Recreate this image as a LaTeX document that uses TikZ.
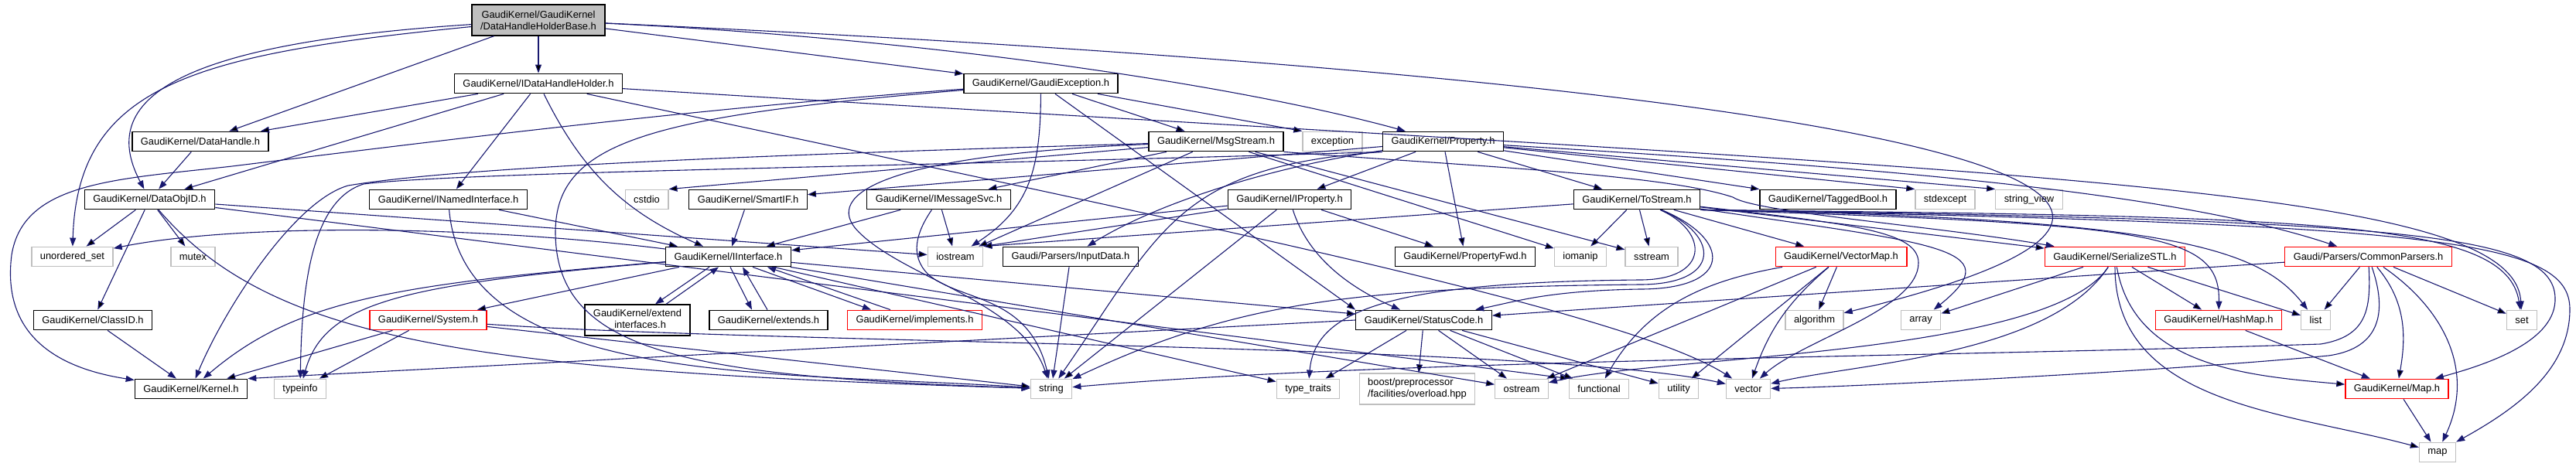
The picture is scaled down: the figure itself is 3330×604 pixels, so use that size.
\documentclass[tikz,border=0pt]{standalone}
\usepackage{fontspec}
\setmainfont{Liberation Sans}
\usepackage{tikz}
\usetikzlibrary{arrows.meta}
\definecolor{edgeblue}{HTML}{191970}
\definecolor{grey75}{HTML}{BFBFBF}
\tikzset{
  hdr/.style={draw=black,line width=1.3pt,minimum height=25.5pt,inner xsep=11pt,inner ysep=0pt,font=\fontsize{12.9pt}{15pt}\selectfont},
  sys/.style={hdr,draw=grey75},
  hid/.style={hdr,draw=red},
  rootbox/.style={hdr,fill=grey75,minimum height=40pt,align=center},
  dep/.style={->,draw=edgeblue,line width=1.1pt},
}
\begin{document}
\begin{tikzpicture}[x=1pt,y=1pt,>={Triangle[length=11pt,width=8pt]}]
  \useasboundingbox (0,0) rectangle (3330,-604);

  \node[rootbox] at (696,-26) (holder){GaudiKernel/GaudiKernel\\/DataHandleHolderBase.h};
  \node[hdr] at ([yshift=-82pt]holder) (idhh){GaudiKernel/IDataHandleHolder.h};
  \node[hdr] at (1345.5,-108) (gexc){GaudiKernel/GaudiException.h};

  \node[hdr] at (259,-183) (dh){GaudiKernel/DataHandle.h};
  \node[hdr] at (1572,-183) (msg){GaudiKernel/MsgStream.h};
  \node[sys] at (1722.5,-183) (exc){exception};
  \node[hdr] at (1865.5,-183) (prop){GaudiKernel/Property.h};

  \node[hdr] at (193.5,-258) (doid){GaudiKernel/DataObjID.h};
  \node[hdr] at (579.5,-258) (inamed){GaudiKernel/INamedInterface.h};
  \node[sys] at (836,-258) (cstdio){cstdio};
  \node[hdr] at (967,-258) (smartif){GaudiKernel/SmartIF.h};
  \node[hdr] at (1213.5,-258) (imsg){GaudiKernel/IMessageSvc.h};
  \node[hdr] at (1667,-258) (iprop){GaudiKernel/IProperty.h};
  \node[hdr] at (2116,-258) (tostr){GaudiKernel/ToStream.h};
  \node[hdr] at (2363,-258) (tagged){GaudiKernel/TaggedBool.h};
  \node[sys] at (2514.5,-258) (stdexc){stdexcept};
  \node[sys] at (2623,-258) (strview){string\_view};

  \node[sys] at (93.5,-332) (uset){unordered\_set};
  \node[sys] at (249.5,-332) (mutex){mutex};
  \node[hdr] at (941.5,-332) (iintf){GaudiKernel/IInterface.h};
  \node[sys] at (1235,-332) (iostr){iostream};
  \node[hdr] at (1384,-332) (input){Gaudi/Parsers/InputData.h};
  \node[hdr] at (1894,-332) (pfwd){GaudiKernel/PropertyFwd.h};
  \node[sys] at (2043,-332) (iomanip){iomanip};
  \node[sys] at (2135,-332) (sstr){sstream};
  \node[hid] at (2380,-332) (vmap){GaudiKernel/VectorMap.h};
  \node[hid] at (2734,-332) (sstl){GaudiKernel/SerializeSTL.h};
  \node[hid] at (3061.5,-332) (cparse){Gaudi/Parsers/CommonParsers.h};

  \node[hdr] at (120,-414) (classid){GaudiKernel/ClassID.h};
  \node[hid] at (553.5,-414) (system){GaudiKernel/System.h};
  \node[hdr,minimum height=40pt,align=center] at (824,-414) (extif){GaudiKernel/extend\\\_interfaces.h};
  \node[hdr] at (993.5,-414) (extends){GaudiKernel/extends.h};
  \node[hid] at (1182.5,-414) (impl){GaudiKernel/implements.h};
  \node[hdr] at (1840.5,-414) (status){GaudiKernel/StatusCode.h};
  \node[sys] at (2345.5,-414) (algo){algorithm};
  \node[sys] at (2483,-414) (array){array};
  \node[hid] at (2868,-414) (hmap){GaudiKernel/HashMap.h};
  \node[sys] at (2993.5,-414) (list){list};
  \node[sys] at (3260,-414) (set){set};

  \node[hdr] at (247,-503) (kernel){GaudiKernel/Kernel.h};
  \node[sys] at (388,-503) (tinfo){typeinfo};
  \node[sys] at (1359,-503) (string){string};
  \node[sys] at (1691,-503) (ttraits){type\_traits};
  \node[sys,minimum height=40pt,align=left] at (1832,-503) (boost){boost/preprocessor\\/facilities/overload.hpp};
  \node[sys] at (1967,-503) (ostr){ostream};
  \node[sys] at (2067,-503) (func){functional};
  \node[sys] at (2170,-503) (util){utility};
  \node[sys] at (2260,-503) (vector){vector};
  \node[hid] at (3098.5,-503) (mapH){GaudiKernel/Map.h};
  \node[sys] at ([yshift=-82pt,xshift=52.5pt]mapH) (map){map};

  \draw [dep] (holder) edge (idhh) edge (dh) edge (gexc);
  \draw [dep] (holder) .. controls (250,-70) and (100,-110) .. (uset);
  \draw [dep] (holder) .. controls (250,-55) and (120,-120) .. (doid);
  \draw [dep] (holder) .. controls (1200,-50) and (1600,-110) .. (prop);
  \draw [dep] (holder) .. controls (2300,-100) and (3100,-230) .. (algo);

  \draw [dep] (idhh) edge (dh) edge (doid) edge (inamed) edge[bend right=20] (iintf);
  \draw [dep] (idhh) .. controls (1500,-280) and (2100,-400) .. (vector);
  \draw [dep] (idhh) .. controls (2600,-225) and (3250,-235) .. (set);
  \draw [dep] (dh) -- (doid);

  \draw [dep] (gexc) edge (msg) edge (exc.north west) edge (status.north west);
  \draw [dep] (gexc) .. controls (1345,-220) and (1330,-270) .. (iostr);
  \draw [dep] (gexc) .. controls (900,-140) and (560,-183) .. (300,-215) .. controls (150,-232) and (30,-235) .. (15,-330) .. controls (0,-450) and (100,-480) .. (kernel);
  \draw [dep] (gexc) .. controls (850,-150) and (718,-180) .. (718,-300) .. controls (718,-460) and (900,-487) .. (string);

  \draw [dep] (msg) edge (imsg) edge (cstdio.north east) edge (iostr) edge (iomanip) edge (sstr);
  \draw [dep] (msg) .. controls (1000,-200) and (600,-215) .. (450,-240) .. controls (380,-260) and (290,-400) .. (kernel);
  \draw [dep] (msg) .. controls (1150,-200) and (1060,-250) .. (1110,-300) .. controls (1170,-360) and (1320,-390) .. (string);
  \draw [dep] (msg.south east) .. controls (1900,-215) and (2150,-225) .. (2240,-255) .. controls (2270,-275) and (2500,-292) .. (sstl);

  \draw [dep] (prop) edge (iprop) edge (pfwd) edge (tostr) edge (tagged) edge (stdexc.north west) edge (strview.north west) edge (smartif);
  \draw [dep] (prop) .. controls (2400,-215) and (2800,-245) .. (cparse);
  \draw [dep] (prop) .. controls (1650,-215) and (1500,-260) .. (input);
  \draw [dep] (prop.south west) .. controls (1520,-215) and (1500,-300) .. (string);
  \draw [dep] (prop.south west) .. controls (1200,-215) and (600,-222) .. (470,-238) .. controls (400,-260) and (390,-380) .. (tinfo);

  \draw [dep] (doid) edge (uset) edge (mutex) edge (classid) edge (iostr) edge (func.north west);
  \draw [dep] (doid) .. controls (350,-440) and (600,-480) .. (string);
  \draw [dep] (classid) -- (kernel);
  \draw [dep] (inamed) edge (iintf);
  \draw [dep] (inamed) .. controls (600,-500) and (1000,-480) .. (string);
  \draw [dep] (smartif) -- (iintf);
  \draw [dep] (imsg) edge (iintf) edge (iostr);
  \draw [dep] (imsg) .. controls (1185,-300) and (1175,-330) .. (1200,-355) .. controls (1240,-390) and (1330,-380) .. (string);

  \draw [dep] (iprop) edge (iintf) edge (pfwd) edge (iostr.north east) edge (string);
  \draw [dep] (iprop) .. controls (1690,-330) and (1740,-370) .. (status);

  \draw [dep] (tostr) edge (iostr.north east) edge (iomanip) edge (sstr) edge (vmap) edge (sstl);
  \draw [dep] (tostr) .. controls (2210,-300) and (2210,-362) .. (2120,-362) .. controls (1800,-365) and (1700,-400) .. (ttraits);
  \draw [dep] (tostr) .. controls (2240,-310) and (2240,-374) .. (2120,-374) .. controls (2000,-376) and (1960,-390) .. (status);
  \draw [dep] (tostr) .. controls (2225,-305) and (2225,-368) .. (2120,-368) .. controls (1750,-372) and (1600,-390) .. (string);
  \draw [dep] (tostr) .. controls (2500,-315) and (2600,-320) .. (array);
  \draw [dep] (tostr) .. controls (2400,-290) and (2480,-300) .. (2480,-340) .. controls (2480,-400) and (2330,-440) .. (vector);
  \draw [dep] (tostr.south east) .. controls (2800,-282) and (2920,-320) .. (list);
  \draw [dep] (tostr.south east) .. controls (2780,-290) and (2870,-300) .. (hmap);
  \draw [dep] (tostr.south east) .. controls (3000,-280) and (3240,-285) .. (set);
  \draw [dep] (tostr.south east) .. controls (3100,-285) and (3300,-300) .. (3303,-385) .. controls (3305,-440) and (3220,-470) .. (mapH);
  \draw [dep] (tostr.south east) .. controls (3150,-290) and (3322,-310) .. (3322,-400) .. controls (3322,-480) and (3250,-530) .. (map);

  \draw [dep] (iintf) edge (system) edge (status) edge (ostr) edge (ttraits);
  \draw [dep] (iintf) .. controls (500,-368) and (380,-390) .. (kernel);
  \draw [dep] (iintf) .. controls (520,-368) and (420,-390) .. (tinfo);
  \draw [dep] (iintf) .. controls (600,-290) and (300,-290) .. (uset);
  \draw [dep] ([xshift=-24.5pt]iintf.south) -- ([xshift=23pt]extif.north);
  \draw [dep] ([xshift=37pt]extif.north) -- ([xshift=-12.5pt]iintf.south);
  \draw [dep] ([xshift=2.5pt]iintf.south) -- ([xshift=-21.5pt]extends.north);
  \draw [dep] ([xshift=-1.5pt]extends.north) -- ([xshift=18.5pt]iintf.south);
  \draw [dep] ([xshift=31.5pt]iintf.south) -- ([xshift=-56.5pt]impl.north);
  \draw [dep] ([xshift=-31.5pt]impl.north) -- ([xshift=50.5pt]iintf.south);

  \draw [dep] (system) edge (kernel) edge (tinfo) edge (string);
  \draw [dep] (system) .. controls (1000,-445) and (2000,-445) .. (vector);
  \draw [dep] (status) edge (ttraits) edge (boost) edge (ostr) edge (func) edge (util);
  \draw [dep] (status.west) -- (kernel.north east);
  \draw [dep] (input) -- (string);

  \draw [dep] (vmap) edge (algo) edge[bend right=15] (vector) edge (util) edge (ostr) edge[out=190,in=60] (func);
  \draw [dep] (sstl) edge (hmap) edge (list) edge (array) edge[out=-80,in=175] (mapH) edge[out=-90,in=165] (map);
  \draw [dep] (sstl) .. controls (2650,-460) and (2400,-470) .. (vector);
  \draw [dep] (sstl) .. controls (2650,-460) and (2150,-460) .. (ostr);

  \draw [dep] (cparse) edge (list) edge (set) edge (status) edge[out=-50,in=80] (mapH);
  \draw [dep] (cparse) .. controls (3160,-400) and (3200,-480) .. (map);
  \draw [dep] (cparse) .. controls (3065,-400) and (3060,-435) .. (3000,-445) .. controls (2500,-462) and (1800,-465) .. (string);
  \draw [dep] (cparse) .. controls (3085,-400) and (3080,-450) .. (3010,-460) .. controls (2800,-480) and (2400,-500) .. (vector);
  \draw [dep] (hmap) -- (mapH);
  \draw [dep] (mapH) -- (map);
\end{tikzpicture}
\end{document}
